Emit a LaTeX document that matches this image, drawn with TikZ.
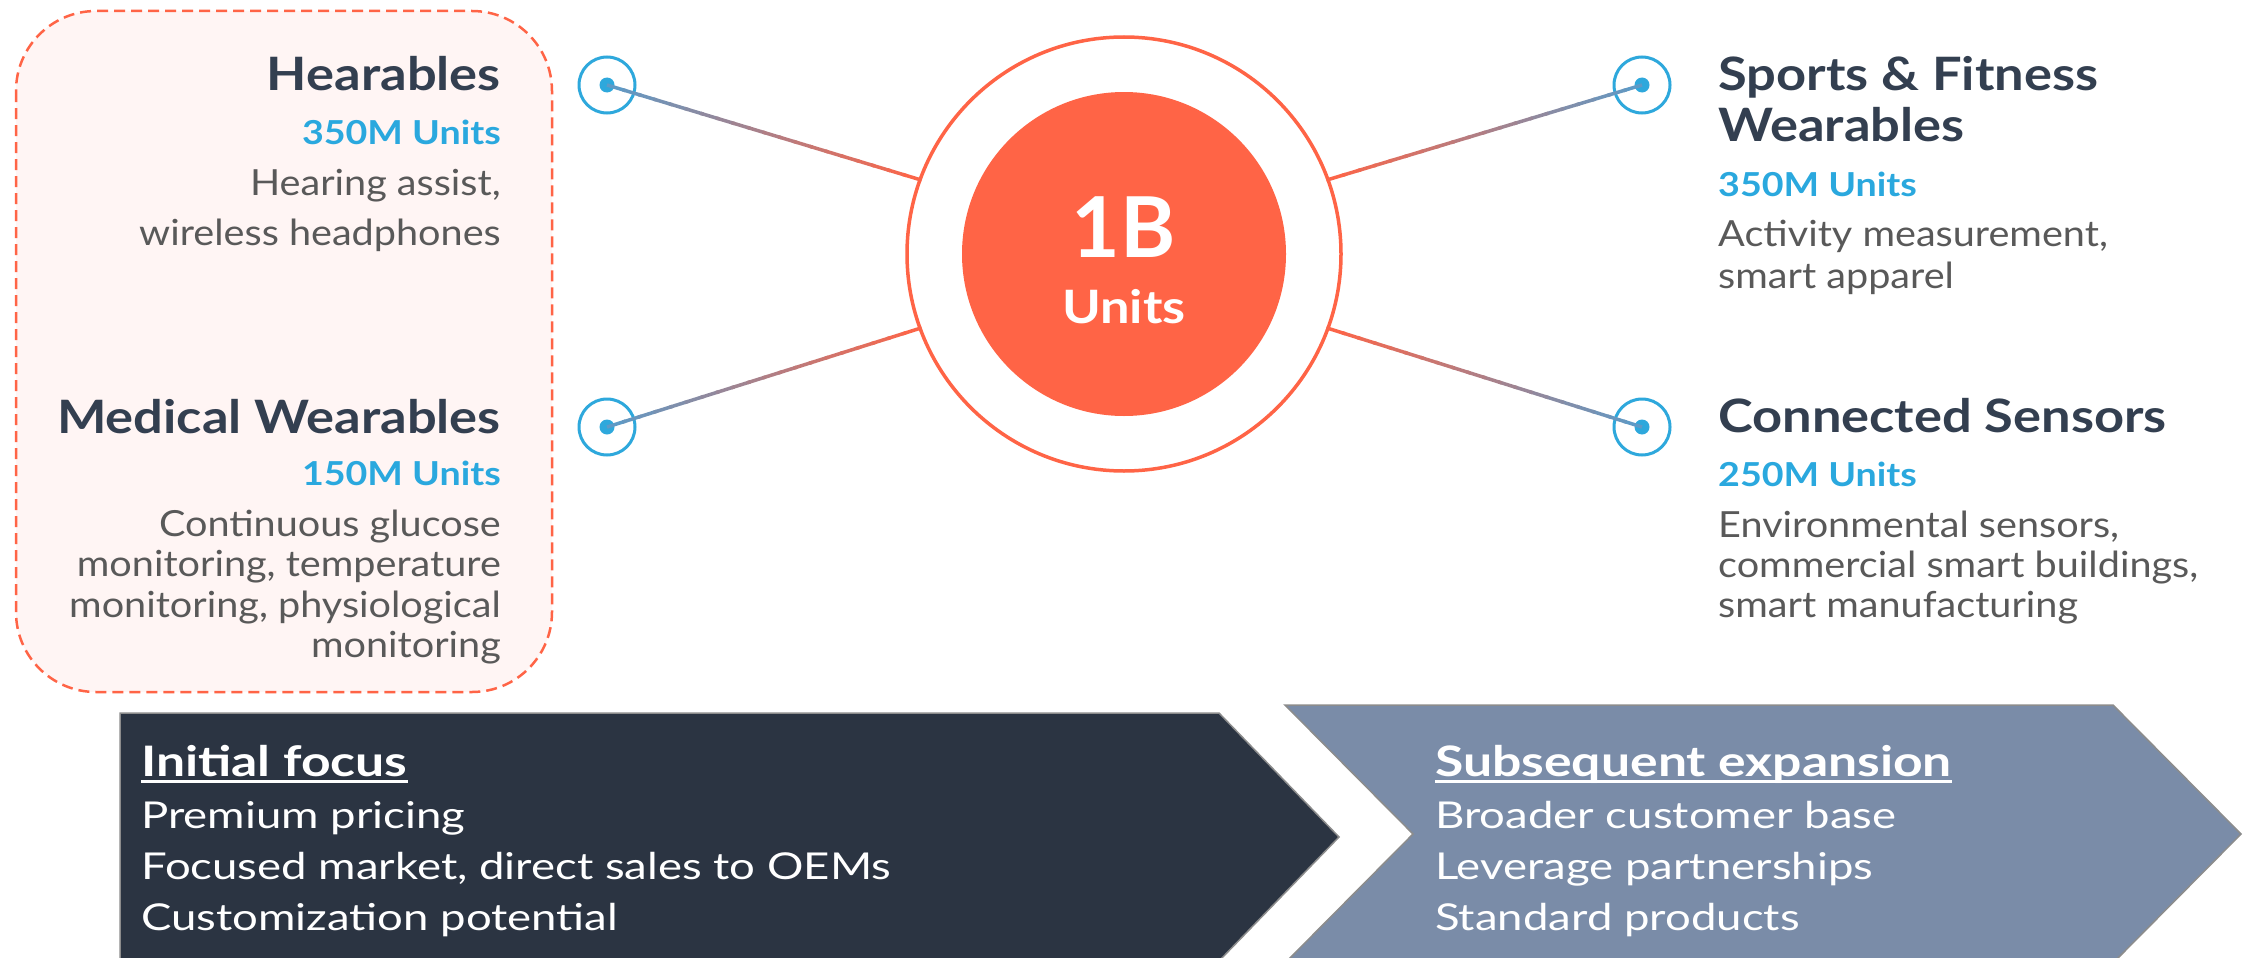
\documentclass[tikz,border=0pt]{standalone}
\usepackage{fontspec}
\setmainfont{Lato}
\newfontfamily\headfam{Lato}[FakeStretch=1.14]
\newfontfamily\descfam{Lato}[FakeStretch=1.10]
\newfontfamily\chevfam{Lato}[FakeStretch=1.23]
\usetikzlibrary{calc}

\definecolor{hubred}{HTML}{FF6446}
\definecolor{boxpink}{HTML}{FFF5F4}
\definecolor{navy}{HTML}{333F50}
\definecolor{unitblue}{HTML}{2AA8DE}
\definecolor{txtgray}{HTML}{595959}
\definecolor{portblue}{HTML}{2EA8DC}
\definecolor{lnblue}{HTML}{5A9BC9}
\definecolor{chevdark}{HTML}{2B3442}
\definecolor{chevlight}{HTML}{7A8CA8}
\definecolor{chevedge}{HTML}{8C8C8C}

% line that fades from blue (port) to red (hub)
\newcommand\gradline[2]{%
\foreach \k in {0,...,19}{%
\pgfmathsetmacro\p{5*\k+2.5}
\draw[line width=3.5, hubred!\p!lnblue] ($(#1)!\k/20!(#2)$) -- ($(#1)!\k/20+0.06!(#2)$);}}

\begin{document}
\begin{tikzpicture}[x=1pt,y=-1pt]
\tikzset{head/.style={inner sep=0, text=navy, font=\headfam\fontsize{46}{50}\selectfont\bfseries},
 units/.style={inner sep=0, text=unitblue, font=\headfam\fontsize{33}{36}\selectfont\bfseries},
 desc/.style={inner sep=0, text=txtgray, font=\descfam\fontsize{36}{40}\selectfont},
 port/.style={circle, draw=portblue, line width=3, minimum size=56, inner sep=0},
 dot/.style={circle, fill=portblue, minimum size=15, inner sep=0},
 chevtitle/.style={inner sep=0, text=white, anchor=base west, font=\chevfam\fontsize{42}{46}\selectfont\bfseries},
 chevitem/.style={inner sep=0, text=white, anchor=base west, font=\chevfam\fontsize{37}{40}\selectfont}}

\fill[white] (0,0) rectangle (2249,958);
\useasboundingbox (0,0) rectangle (2249,958);

% Focus area
\draw[hubred, fill=boxpink, line width=2.5, dash pattern=on 11pt off 6pt, rounded corners=80]
 (16,11) rectangle (552,692);

% Hub
\node[circle, draw=hubred, line width=3.5, minimum size=434, inner sep=0] (ring) at (1124,254) {};
\node[circle, fill=hubred, minimum size=324, inner sep=0] (core) at (1124,254) {};
\node[anchor=base, text=white, font=\fontsize{84}{90}\selectfont\bfseries] (total) at (1124,257) {1B};
\node[anchor=base, text=white, font=\headfam\fontsize{46}{50}\selectfont\bfseries] (totalu) at (1124,323) {Units};

% Ports
\node[port] (hearP) at (607,85) {};
\node[dot] (hearC) at (607,85) {};
\node[port] (medP) at (607,427) {};
\node[dot] (medC) at (607,427) {};
\node[port] (sportP) at (1642,85) {};
\node[dot] (sportC) at (1642,85) {};
\node[port] (sensP) at (1642,427) {};
\node[dot] (sensC) at (1642,427) {};

% Connections
\gradline{hearC.center}{ring.160}
\gradline{medC.center}{ring.200}
\gradline{sportC.center}{ring.20}
\gradline{sensC.center}{ring.-20}

% Left segments
\node[head, anchor=base east] (hearT) at (501,91) {Hearables};
\node[units, anchor=base east] (hearU) at (501,144) {350M Units};
\node[desc, anchor=base east] (hearD1) at (501,195) {Hearing assist,};
\node[desc, anchor=base east] (hearD2) at (501,245) {wireless headphones};

\node[head, anchor=base east] (medT) at (501,433) {Medical Wearables};
\node[units, anchor=base east] (medU) at (501,485) {150M Units};
\node[desc, anchor=base east] (medD1) at (501,536) {Continuous glucose};
\node[desc, anchor=base east] (medD2) at (501,576) {monitoring, temperature};
\node[desc, anchor=base east] (medD3) at (501,617) {monitoring, physiological};
\node[desc, anchor=base east] (medD4) at (501,657) {monitoring};

% Right segments
\node[head, anchor=base west] (sportT1) at (1718,90) {Sports \& Fitness};
\node[head, anchor=base west] (sportT2) at (1718,141) {Wearables};
\node[units, anchor=base west] (sportU) at (1718,196) {350M Units};
\node[desc, anchor=base west] (sportD1) at (1718,246) {Activity measurement,};
\node[desc, anchor=base west] (sportD2) at (1718,288) {smart apparel};

\node[head, anchor=base west] (sensT) at (1718,432) {Connected Sensors};
\node[units, anchor=base west] (sensU) at (1718,486) {250M Units};
\node[desc, anchor=base west] (sensD1) at (1718,537) {Environmental sensors,};
\node[desc, anchor=base west] (sensD2) at (1718,577) {commercial smart buildings,};
\node[desc, anchor=base west] (sensD3) at (1718,617) {smart manufacturing};

% Phases
\draw[chevedge, fill=chevdark, line width=1.5]
 (120,713) -- (1219,713) -- (1339,837) -- (1219,961) -- (120,961) -- cycle;
\draw[chevedge, fill=chevlight, line width=1.5]
 (1285,705) -- (2113,705) -- (2241,834) -- (2113,963) -- (1285,963) -- (1413,834) -- cycle;

\node[chevtitle] (fcsT) at (141,776) {Initial focus};
\node[chevitem] (fcs1) at (141,828) {Premium pricing};
\node[chevitem] (fcs2) at (141,879) {Focused market, direct sales to OEMs};
\node[chevitem] (fcs3) at (141,930) {Customization potential};
\draw[white, line width=3] ([yshift=-5pt]fcsT.base west) -- ([yshift=-5pt]fcsT.base east);

\node[chevtitle] (expT) at (1435,776) {Subsequent expansion};
\node[chevitem] (exp1) at (1435,828) {Broader customer base};
\node[chevitem] (exp2) at (1435,879) {Leverage partnerships};
\node[chevitem] (exp3) at (1435,930) {Standard products};
\draw[white, line width=3] ([yshift=-5pt]expT.base west) -- ([yshift=-5pt]expT.base east);

\end{tikzpicture}
\end{document}
